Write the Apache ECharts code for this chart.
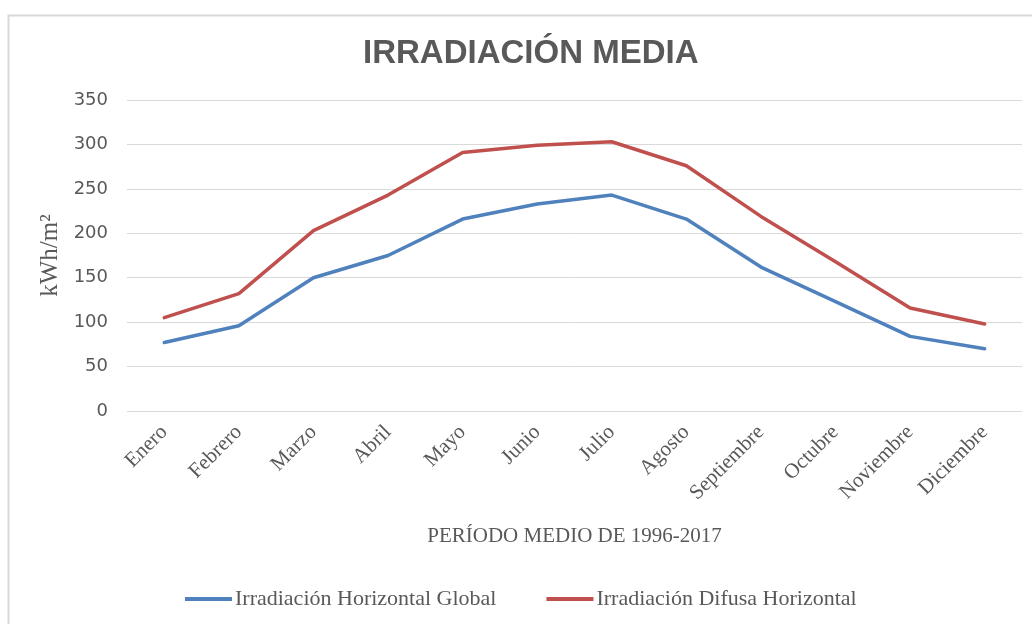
<!DOCTYPE html>
<html>
<head>
<meta charset="utf-8">
<script src="https://cdn.jsdelivr.net/npm/echarts@6/dist/echarts.min.js"></script>
<style>
  html, body { margin: 0; padding: 0; background: #fff; }
  #chart { width: 1032px; height: 624px; }
</style>
</head>
<body>
<div id="chart"></div>
<script>
// meses
const months = ['Enero', 'Febrero', 'Marzo', 'Abril', 'Mayo', 'Junio', 'Julio', 'Agosto', 'Septiembre', 'Octubre', 'Noviembre', 'Diciembre']
// kWh/m2
const globalHoriz = [77, 96, 150, 175, 216, 233, 243, 216, 162, 123, 84, 70]
const difusaHoriz = [105, 132, 203, 243, 291, 299, 303, 276, 219, 168, 116, 98]
const yTicks = [0, 50, 100, 150, 200, 250, 300, 350]

const serif = '"Liberation Serif", "DejaVu Serif", serif'
const sans = '"Liberation Sans", Arial, sans-serif'
const grey = '#595959'

const chart = echarts.init(document.getElementById('chart'))
chart.setOption({
  animation: false,
  graphic: [{
    type: 'rect',
    shape: { x: 8.5, y: 15.5, width: 1100, height: 700 },
    style: { fill: 'none', stroke: '#d9d9d9', lineWidth: 2 }
  }],
  title: {
    text: 'IRRADIACIÓN MEDIA',
    left: 358,
    top: 32,
    textStyle: { fontFamily: sans, fontSize: 33, fontWeight: 'bold', color: grey }
  },
  grid: {
    left: 127,
    right: 10,
    top: 100,
    bottom: 213
  },
  legend: {
    bottom: 9,
    left: 180,
    itemWidth: 47,
    itemHeight: 4,
    itemGap: 50,
    icon: 'rect',
    textStyle: { fontFamily: serif, fontSize: 22, color: grey, padding: [0, 0, 0, -2] },
    data: ['Irradiación Horizontal Global', 'Irradiación Difusa Horizontal']
  },
  xAxis: {
    type: 'category',
    data: months,
    boundaryGap: true,
    name: 'PERÍODO MEDIO DE 1996-2017',
    nameLocation: 'middle',
    nameGap: 115,
    nameTextStyle: { fontFamily: serif, fontSize: 21, color: grey },
    axisLine: { show: false },
    axisTick: { show: false },
    axisLabel: {
      rotate: 45,
      margin: 18,
      fontFamily: serif,
      fontSize: 21,
      color: grey,
      interval: 0
    }
  },
  yAxis: {
    type: 'value',
    min: yTicks[0],
    max: yTicks[yTicks.length - 1],
    interval: 50,
    name: 'kWh/m²',
    nameLocation: 'middle',
    nameGap: 57,
    nameTextStyle: { fontFamily: serif, fontSize: 25, color: grey },
    axisLine: { show: false },
    axisTick: { show: false },
    axisLabel: { fontFamily: '"DejaVu Sans", sans-serif', fontSize: 18, color: grey, margin: 19 },
    splitLine: { lineStyle: { color: '#d9d9d9', width: 1 } }
  },
  series: [
    {
      name: 'Irradiación Horizontal Global',
      type: 'line',
      data: globalHoriz,
      symbol: 'none',
      itemStyle: { color: '#4f81bd' },
      lineStyle: { color: '#4f81bd', width: 3.5, cap: 'round' }
    },
    {
      name: 'Irradiación Difusa Horizontal',
      type: 'line',
      data: difusaHoriz,
      symbol: 'none',
      itemStyle: { color: '#c0504d' },
      lineStyle: { color: '#c0504d', width: 3.5, cap: 'round' }
    }
  ]
})
</script>
</body>
</html>
